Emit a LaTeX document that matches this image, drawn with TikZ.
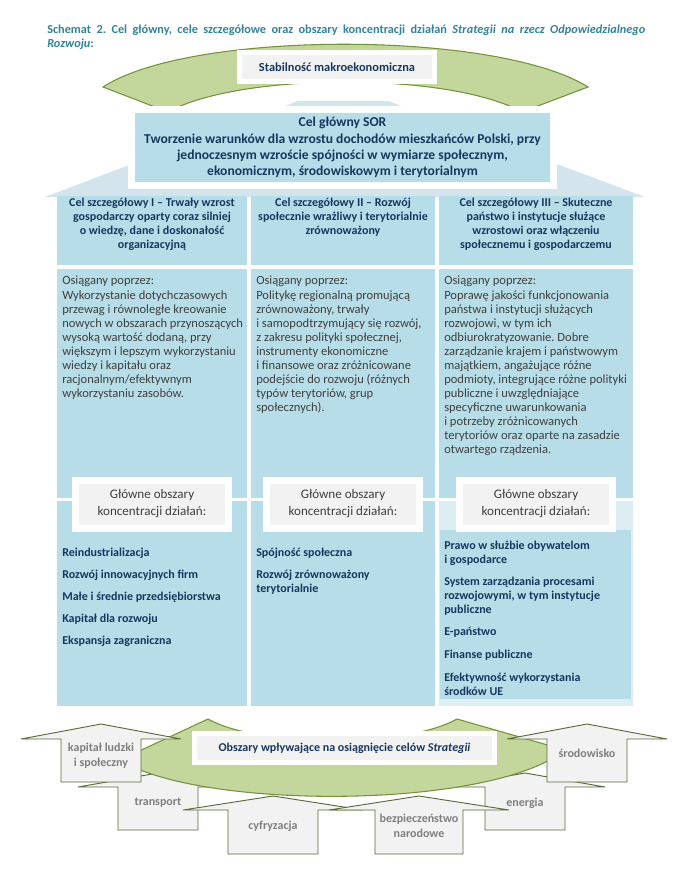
\documentclass[tikz,border=0pt]{standalone}
\usepackage{fontspec}
\setmainfont{Carlito}
\frenchspacing
\definecolor{navy}{HTML}{17375E}
\definecolor{titlecol}{HTML}{31849B}
\definecolor{cellblue}{HTML}{B7DDE8}
\definecolor{cellpale}{HTML}{DCEEF4}
\definecolor{chevcol}{HTML}{D3E4EC}
\definecolor{boxgray}{HTML}{F2F2F2}
\definecolor{greenfill}{HTML}{C3D69B}
\definecolor{greenline}{HTML}{76923C}
\definecolor{arrline}{HTML}{5A6B3A}
\definecolor{arrtext}{HTML}{7F7F7F}
\definecolor{bodytext}{HTML}{3F3F3F}
\newcommand{\myUpArrow}[6]{%
  \filldraw[arrowshape] (#1-#2,#5) -- (#1,#4) -- (#1+#2,#5) -- (#1+#3,#5) -- (#1+#3,#6) -- (#1-#3,#6) -- (#1-#3,#5) -- cycle;}
\begin{document}
\begin{tikzpicture}[x=0.75pt,y=-0.75pt,
  cell/.style={fill=cellblue, draw=none},
  hdr/.style={font=\bfseries\fontsize{9}{10.5}\selectfont, text=navy, align=center, inner sep=0pt, anchor=north},
  bodyt/.style={font=\fontsize{9.4}{10.5}\selectfont, text=bodytext, align=left, inner sep=0pt, anchor=north west},
  item/.style={font=\bfseries\fontsize{9}{10.5}\selectfont, text=navy, align=left, inner sep=0pt, anchor=west},
  gbox/.style={fill=boxgray, draw=white, line width=5.25pt, minimum width=114.75pt, minimum height=36pt, inner sep=0pt, align=center, text=bodytext, font=\fontsize{9.8}{12.75}\selectfont},
  arrowshape/.style={fill=boxgray, draw=arrline, line width=0.7pt, line join=miter},
  alabel/.style={font=\bfseries\fontsize{9}{11.25}\selectfont, text=arrtext, align=center, inner sep=0pt},
  greenshape/.style={fill=greenfill, draw=greenline, line width=0.8pt},
]
\useasboundingbox (0,0) rectangle (695,890);
\fill[white] (0,0) rectangle (695,890);

% title
\node[anchor=north west, inner sep=0pt, text width=448.5pt, align=justify, text=titlecol,
  font=\bfseries\fontsize{9.2}{10.5}\selectfont] (title) at (47,25)
  {Schemat 2. Cel główny, cele szczegółowe oraz obszary koncentracji działań \textit{Strategii na rzecz Odpowiedzialnego}\linebreak \textit{Rozwoju}:};

% pale chevron behind
\fill[chevcol] (298,101) -- (388,101) -- (645,197) -- (45,197) -- cycle;

% top green arch
\filldraw[greenshape] (103,87) .. controls (190,30) and (497,30) .. (588,87) -- (522,112) .. controls (450,72) and (240,72) .. (168,112) -- cycle;

% Stabilnosc box
\node[fill=boxgray, draw=white, line width=3.75pt, minimum width=146.25pt, minimum height=21.75pt, inner sep=0pt,
  text=navy, font=\bfseries\fontsize{9.3}{10}\selectfont] (stab) at (337,67) {Stabilność makroekonomiczna};

% Cel glowny box
\fill[white] (128,106) rectangle (557,189);
\fill[cellblue] (135,113) rectangle (550,182);
\node[align=center, inner sep=0pt, text=navy, font=\bfseries\fontsize{10.2}{12.2}\selectfont] (celglowny) at (342.5,147.5)
  {Cel główny SOR\\Tworzenie warunków dla wzrostu dochodów mieszkańców Polski, przy\\jednoczesnym wzroście spójności w wymiarze społecznym,\\ekonomicznym, środowiskowym i terytorialnym};

% cells
\fill[cell] (57,196) rectangle (247,265);
\fill[cell] (251,196) rectangle (435,265);
\fill[cell] (439,196) rectangle (633,265);
\fill[cell] (57,269) rectangle (247,498);
\fill[cell] (251,269) rectangle (435,498);
\fill[cell] (439,269) rectangle (633,498);
\fill[cell] (57,501) rectangle (247,706);
\fill[cell] (251,501) rectangle (435,706);
\fill[cellpale] (439,501) rectangle (633,706);
\fill[cell] (440,530) rectangle (631,699);

% headers
\node[hdr] (h1) at (152,198) {Cel szczegółowy I – Trwały wzrost\\gospodarczy oparty coraz silniej\\o wiedzę, dane i doskonałość\\organizacyjną};
\node[hdr] (h2) at (343,198) {Cel szczegółowy II – Rozwój\\społecznie wrażliwy i terytorialnie\\zrównoważony};
\node[hdr] (h3) at (536,198) {Cel szczegółowy III – Skuteczne\\państwo i instytucje służące\\wzrostowi oraz włączeniu\\społecznemu i gospodarczemu};

% bodies
\node[bodyt] (b1) at (62,276) {Osiągany poprzez:\\[0.75pt]Wykorzystanie dotychczasowych\\przewag i równoległe kreowanie\\nowych w obszarach przynoszących\\wysoką wartość dodaną, przy\\większym i lepszym wykorzystaniu\\wiedzy i kapitału oraz\\racjonalnym/efektywnym\\wykorzystaniu zasobów.};
\node[bodyt] (b2) at (256,276) {Osiągany poprzez:\\[0.75pt]Politykę regionalną promującą\\zrównoważony, trwały\\i samopodtrzymujący się rozwój,\\z zakresu polityki społecznej,\\instrumenty ekonomiczne\\i finansowe oraz zróżnicowane\\podejście do rozwoju (różnych\\typów terytoriów, grup\\społecznych).};
\node[bodyt] (b3) at (444,276) {Osiągany poprzez:\\[0.75pt]Poprawę jakości funkcjonowania\\państwa i instytucji służących\\rozwojowi, w tym ich\\odbiurokratyzowanie. Dobre\\zarządzanie krajem i państwowym\\majątkiem, angażujące różne\\podmioty, integrujące różne polityki\\publiczne i uwzględniające\\specyficzne uwarunkowania\\i potrzeby zróżnicowanych\\terytoriów oraz oparte na zasadzie\\otwartego rządzenia.};

% Glowne obszary boxes
\node[gbox] (g1) at (152,504) {Główne obszary\\koncentracji działań:};
\node[gbox] (g2) at (343,504) {Główne obszary\\koncentracji działań:};
\node[gbox] (g3) at (536,504) {Główne obszary\\koncentracji działań:};

% lists
\node[item] (l11) at (62,553) {Reindustrializacja};
\node[item] (l12) at (62,575) {Rozwój innowacyjnych firm};
\node[item] (l13) at (62,597) {Małe i średnie przedsiębiorstwa};
\node[item] (l14) at (62,619) {Kapitał dla rozwoju};
\node[item] (l15) at (62,641) {Ekspansja zagraniczna};
\node[item] (l21) at (256,553) {Spójność społeczna};
\node[item] (l22) at (256,582) {Rozwój zrównoważony\\terytorialnie};
\node[item] (l31) at (444,553) {Prawo w służbie obywatelom\\i gospodarce};
\node[item] (l32) at (444,596) {System zarządzania procesami\\rozwojowymi, w tym instytucje\\publiczne};
\node[item] (l33) at (444,632) {E-państwo};
\node[item] (l34) at (444,655) {Finanse publiczne};
\node[item] (l35) at (444,684) {Efektywność wykorzystania\\środków UE};

% bottom arrows (back)
\myUpArrow{158}{80}{40}{773}{787}{830}
\myUpArrow{525}{80}{40}{773}{787}{830}
\myUpArrow{273}{90}{45}{796}{810}{854}
\myUpArrow{419}{90}{44}{796}{810}{854}

% bottom green shape
\filldraw[greenshape] (208,719) .. controls (260,748) and (405,748) .. (457,719) -- (565,750) .. controls (490,810) and (200,810) .. (120,760) -- cycle;

% front arrows
\myUpArrow{101}{80}{40}{724}{739}{782}
\myUpArrow{587}{80}{40}{724}{739}{782}

% Obszary box
\node[fill=boxgray, draw=white, line width=3.75pt, minimum width=225pt, minimum height=21.75pt, inner sep=0pt,
  text=navy, font=\bfseries\fontsize{9}{10}\selectfont] (obszary) at (344.5,748) {Obszary wpływające na osiągnięcie celów \textit{Strategii}};

% arrow labels
\node[alabel] (a1) at (101,755.5) {kapitał ludzki\\i społeczny};
\node[alabel] (a2) at (158,803) {transport};
\node[alabel] (a3) at (273,826) {cyfryzacja};
\node[alabel] (a4) at (419,825.5) {bezpieczeństwo\\narodowe};
\node[alabel] (a5) at (525,803) {energia};
\node[alabel] (a6) at (587,753) {środowisko};
\end{tikzpicture}
\end{document}
